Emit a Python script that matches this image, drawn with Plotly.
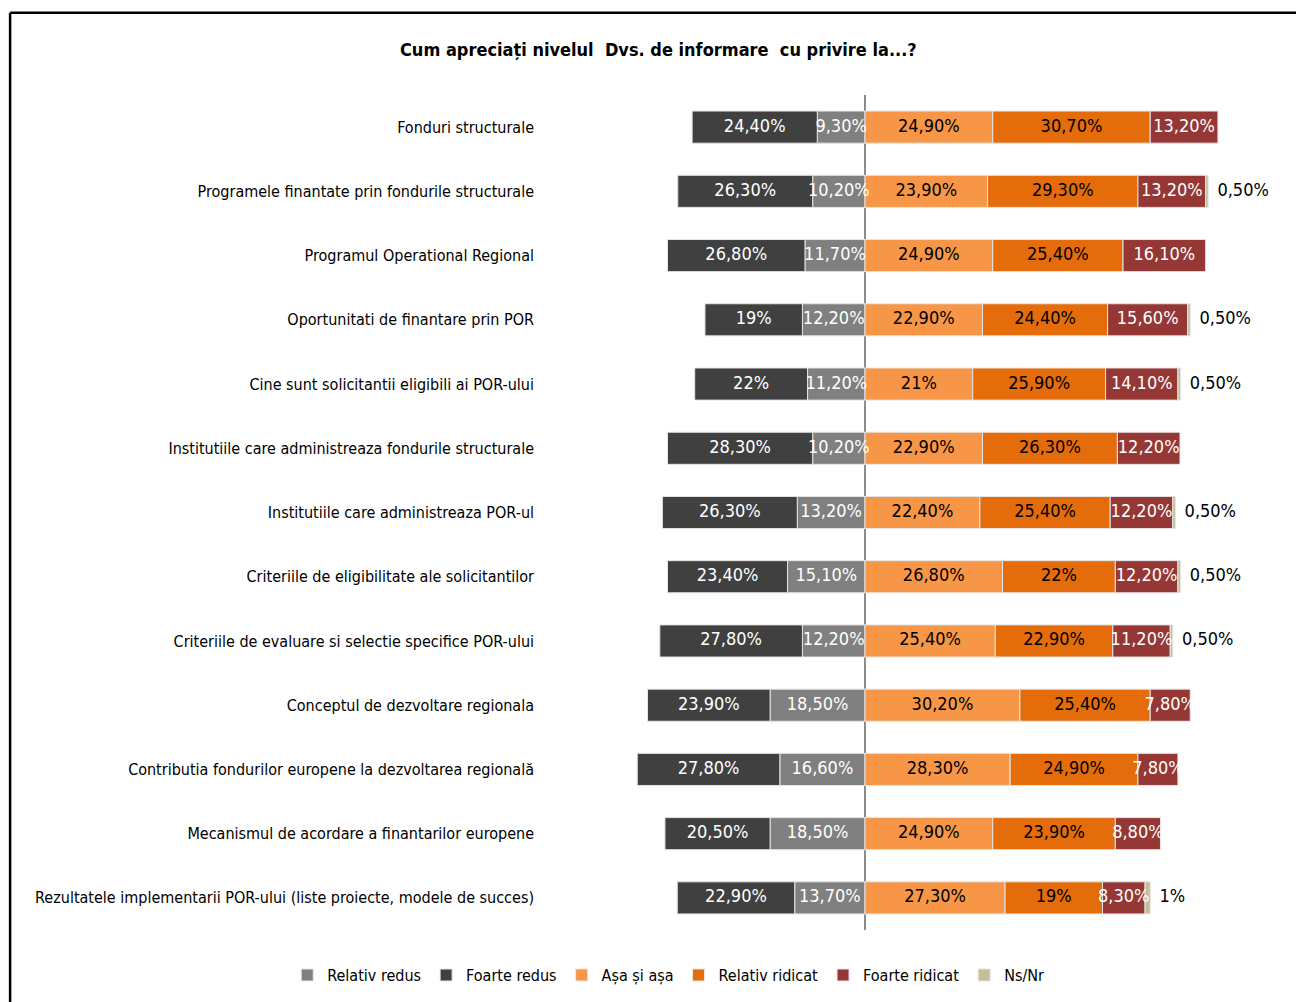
import plotly.graph_objects as go

categories = [
    "Fonduri structurale",
    "Programele finantate prin fondurile structurale",
    "Programul Operational Regional",
    "Oportunitati de finantare prin POR",
    "Cine sunt solicitantii eligibili ai POR-ului",
    "Institutiile care administreaza fondurile structurale",
    "Institutiile care administreaza POR-ul",
    "Criteriile de eligibilitate ale solicitantilor",
    "Criteriile de evaluare si selectie specifice POR-ului",
    "Conceptul de dezvoltare regionala",
    "Contributia fondurilor europene la dezvoltarea regională",
    "Mecanismul de acordare a finantarilor europene",
    "Rezultatele implementarii POR-ului (liste proiecte, modele de succes)",
]

relativ_redus = [9.3, 10.2, 11.7, 12.2, 11.2, 10.2, 13.2, 15.1, 12.2, 18.5, 16.6, 18.5, 13.7]
foarte_redus = [24.4, 26.3, 26.8, 19, 22, 28.3, 26.3, 23.4, 27.8, 23.9, 27.8, 20.5, 22.9]
asa_si_asa = [24.9, 23.9, 24.9, 22.9, 21, 22.9, 22.4, 26.8, 25.4, 30.2, 28.3, 24.9, 27.3]
relativ_ridicat = [30.7, 29.3, 25.4, 24.4, 25.9, 26.3, 25.4, 22, 22.9, 25.4, 24.9, 23.9, 19]
foarte_ridicat = [13.2, 13.2, 16.1, 15.6, 14.1, 12.2, 12.2, 12.2, 11.2, 7.8, 7.8, 8.8, 8.3]
ns_nr = [None, 0.5, None, 0.5, 0.5, None, 0.5, 0.5, 0.5, None, None, None, 1]

title_text = "Cum apreciați nivelul  Dvs. de informare  cu privire la...?"

FONT = "DejaVu Sans Condensed, Liberation Sans Narrow, sans-serif"


def fmt(v):
    if v is None:
        return ""
    if float(v).is_integer():
        return f"{int(v)}%"
    return f"{v:.2f}%".replace(".", ",")


def bar(name, vals, color, neg=False):
    xs = [(-v if neg else v) if v is not None else None for v in vals]
    return go.Bar(
        name=name, y=categories, x=xs, orientation="h",
        marker=dict(color=color, line=dict(color="#E6E6E6", width=1)),
        textposition="none", width=0.5, hoverinfo="skip",
    )


def labels(xs, vals, color, position="middle center"):
    px, py, pt = [], [], []
    for cat, x, v in zip(categories, xs, vals):
        if v is not None:
            px.append(x)
            py.append(cat)
            pt.append(fmt(v))
    return go.Scatter(
        x=px, y=py, text=pt, mode="text", textposition=position,
        textfont=dict(family=FONT, size=18, color=color),
        showlegend=False, hoverinfo="skip", cliponaxis=False,
    )


fig = go.Figure()
fig.add_trace(bar("Relativ redus", relativ_redus, "#808080", neg=True))
fig.add_trace(bar("Foarte redus", foarte_redus, "#404040", neg=True))
fig.add_trace(bar("Așa și așa", asa_si_asa, "#F79646"))
fig.add_trace(bar("Relativ ridicat", relativ_ridicat, "#E46C0A"))
fig.add_trace(bar("Foarte ridicat", foarte_ridicat, "#953735"))
fig.add_trace(bar("Ns/Nr", ns_nr, "#C4BD97"))

# segment-centre labels (derived from cumulative data)
c_rr = [-v / 2 for v in relativ_redus]
c_fr = [-(a + b / 2) for a, b in zip(relativ_redus, foarte_redus)]
c_as = [v / 2 for v in asa_si_asa]
c_ri = [a + b / 2 for a, b in zip(asa_si_asa, relativ_ridicat)]
c_fi = [a + b + c / 2 for a, b, c in zip(asa_si_asa, relativ_ridicat, foarte_ridicat)]
ends = [a + b + c + (d or 0) for a, b, c, d in zip(asa_si_asa, relativ_ridicat, foarte_ridicat, ns_nr)]
c_ns = [e + 1.8 for e in ends]

fig.add_trace(labels(c_rr, relativ_redus, "white"))
fig.add_trace(labels(c_fr, foarte_redus, "white"))
fig.add_trace(labels(c_as, asa_si_asa, "black"))
fig.add_trace(labels(c_ri, relativ_ridicat, "black"))
fig.add_trace(labels(c_fi, foarte_ridicat, "white"))
fig.add_trace(labels(c_ns, ns_nr, "black", "middle right"))

# frame lines (top & left)
frame = dict(color="black", width=2.5)
fig.add_shape(type="line", xref="paper", yref="paper", x0=-0.718, x1=1.02, y0=1.0985, y1=1.0985, line=frame)
fig.add_shape(type="line", xref="paper", yref="paper", x0=-0.718, x1=-0.718, y0=1.0985, y1=-0.1, line=frame)

fig.update_layout(
    width=1296, height=1002,
    barmode="relative", bargap=0.5,
    plot_bgcolor="white", paper_bgcolor="white",
    margin=dict(l=545, r=6, t=95, b=72),
    font=dict(family=FONT, size=16, color="black"),
    title=dict(text=f"<b>{title_text}</b>", x=0.508, xref="container", xanchor="center",
               y=1 - 50 / 1002, yref="container", yanchor="middle",
               font=dict(family=FONT, size=18, color="black")),
    xaxis=dict(range=[-62.38, 82.85], showgrid=False, showticklabels=False, ticks="",
               zeroline=True, zerolinecolor="#8C8C8C", zerolinewidth=2, fixedrange=True),
    yaxis=dict(autorange=False, range=[12.5, -0.5], showgrid=False, ticks="",
               ticklabelstandoff=10, tickfont=dict(family=FONT, size=16, color="black"),
               showline=False),
    legend=dict(orientation="h", xref="paper", x=-0.346, xanchor="left",
                yref="paper", y=-0.054, yanchor="middle",
                font=dict(family=FONT, size=16, color="black"), traceorder="normal"),
    showlegend=True,
)

fig.write_html("out.html", config={"displayModeBar": False},
               post_script="document.body.style.margin='0px';")
